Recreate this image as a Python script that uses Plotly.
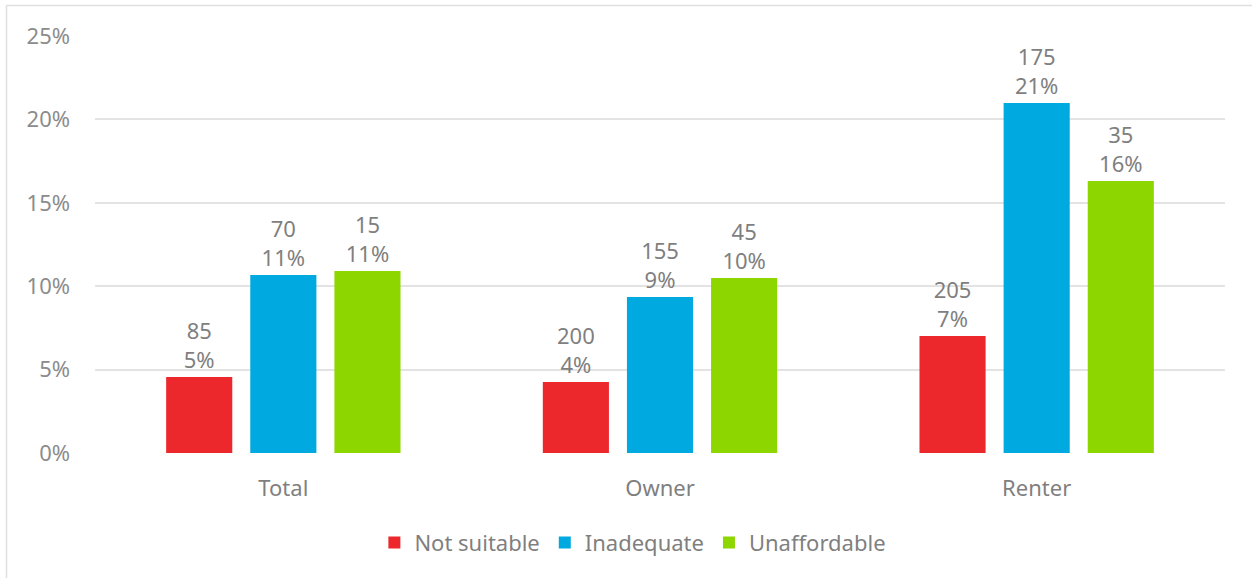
import plotly.graph_objects as go

categories = ["Total", "Owner", "Renter"]
series_names = ["Not suitable", "Inadequate", "Unaffordable"]
colors = ["#ED282D", "#00A9E0", "#8DD600"]
pct_values = [
    [4.56, 4.26, 7.01],
    [10.67, 9.35, 20.98],
    [10.91, 10.49, 16.31],
]
counts = [
    [85, 200, 205],
    [70, 155, 175],
    [15, 45, 35],
]
pct_labels = [
    ["5%", "4%", "7%"],
    ["11%", "9%", "21%"],
    ["11%", "10%", "16%"],
]
y_ticks = [0, 5, 10, 15, 20, 25]
y_tick_labels = ["0%", "5%", "10%", "15%", "20%", "25%"]

FONT = "Noto Sans"
GRAY = "#7f7f7f"
FS = 22

fig = go.Figure()
for i, name in enumerate(series_names):
    fig.add_trace(go.Bar(
        name=name,
        x=categories,
        y=pct_values[i],
        marker=dict(color=colors[i], line=dict(width=0)),
        text=[f"{c}<br>{p}" for c, p in zip(counts[i], pct_labels[i])],
        textposition="outside",
        constraintext="none",
        textfont=dict(family=FONT, size=FS, color=GRAY),
        cliponaxis=False,
        hoverinfo="skip",
    ))

L, R, T, B = 95, 27, 36, 125
W, H = 1252, 578
pw, ph = W - L - R, H - T - B
bx = (6.5 - L) / pw
by = (H - B - 5.5) / ph

fig.update_layout(
    width=W, height=H,
    margin=dict(l=L, r=R, t=T, b=B, pad=0),
    paper_bgcolor="white", plot_bgcolor="white",
    barmode="group", bargap=0.33, bargroupgap=0.214,
    font=dict(family=FONT, size=FS, color=GRAY),
    showlegend=True,
    legend=dict(orientation="h", x=0.476, xanchor="center", y=-0.215, yanchor="middle",
                font=dict(family=FONT, size=FS, color=GRAY),
                itemwidth=30, traceorder="normal"),
    xaxis=dict(showgrid=False, showline=False, ticks="", zeroline=False,
               ticklabelstandoff=20,
               tickfont=dict(family=FONT, size=FS, color=GRAY)),
    yaxis=dict(range=[0, 25], tickvals=y_ticks, ticktext=y_tick_labels,
               showgrid=True, gridcolor="#e3e3e3", gridwidth=1.5,
               zeroline=False, showline=False, ticks="",
               ticklabelstandoff=24,
               tickfont=dict(family=FONT, size=FS, color="#8c8c8c")),
    shapes=[
        dict(type="line", xref="paper", yref="paper", x0=bx, x1=1.1, y0=by, y1=by,
             line=dict(color="#e0e0e0", width=1.5)),
        dict(type="line", xref="paper", yref="paper", x0=bx, x1=bx, y0=by, y1=-0.5,
             line=dict(color="#e0e0e0", width=1.5)),
    ],
)

fig.write_html("out.html")
